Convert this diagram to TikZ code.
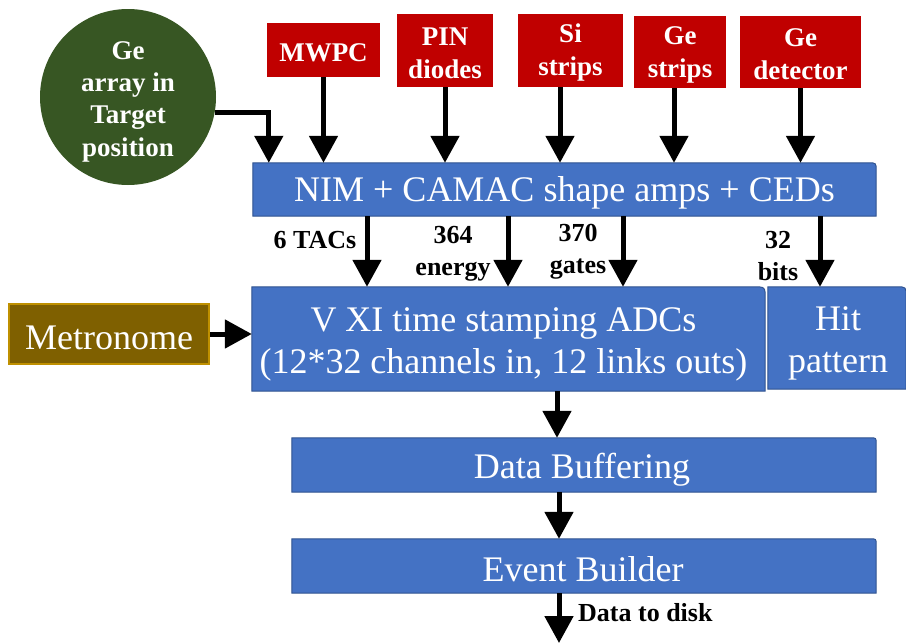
\documentclass[tikz,border=0pt]{standalone}
\usepackage{fontspec}
\setmainfont{Liberation Serif}
\usetikzlibrary{arrows.meta,backgrounds}
\definecolor{boxblue}{HTML}{4472C4}
\definecolor{boxedge}{HTML}{2F528F}
\definecolor{srcred}{HTML}{C00000}
\definecolor{geGreen}{HTML}{375623}
\definecolor{metro}{HTML}{7F6000}
\definecolor{metroedge}{HTML}{BF9000}
\newcommand\rtshape[3]{\filldraw[#3] (#1.south west) -- (#1.north west) -- ([xshift=-#2]#1.north east) .. controls (#1.north east) .. ([yshift=-#2]#1.north east) -- (#1.south east) -- cycle;}
\begin{document}
\begin{tikzpicture}[x=1pt,y=-1pt,
  arr/.style={line width=5pt,-{Triangle[width=28pt,length=27pt]}},
  srcbox/.style={fill=srcred,inner sep=0pt},
  srctext/.style={text=white,font=\fontsize{27}{33}\selectfont\bfseries,align=center,inner sep=0pt},
  shapebox/.style={inner sep=0pt},
  bluetext/.style={text=white,font=\fontsize{36}{42}\selectfont,align=center,inner sep=0pt},
  bluefill/.style={fill=boxblue,draw=boxedge,line width=1pt},
  lbl/.style={font=\fontsize{26}{32}\selectfont\bfseries,align=center,inner sep=0pt}
]
\useasboundingbox (0,0) rectangle (906,643);

% sources
\node[circle,fill=geGreen,minimum size=176pt,inner sep=0pt] (ge) at (128,97) {};
\node[srctext,font=\fontsize{27}{32.3}\selectfont\bfseries,yshift=-4.5pt] (get) at (ge.center) {Ge\\array in\\Target\\position};

\node[srcbox,minimum width=113pt,minimum height=54pt] (mwpc) at (323.5,50) {};
\node[srctext,yshift=-3pt] (mwpct) at (mwpc.center) {MWPC};
\node[srcbox,minimum width=96pt,minimum height=73pt] (pin) at (445,50.5) {};
\node[srctext,yshift=-2.5pt] (pint) at (pin.center) {PIN\\diodes};
\node[srcbox,minimum width=105pt,minimum height=73pt] (si) at (570.5,50.5) {};
\node[srctext,yshift=-2.5pt] (sit) at (si.center) {Si\\strips};
\node[srcbox,minimum width=92pt,minimum height=72pt] (gestr) at (680,52) {};
\node[srctext,yshift=-2.5pt] (gestrt) at (gestr.center) {Ge\\strips};
\node[srcbox,minimum width=121pt,minimum height=72pt] (gedet) at (800.5,52) {};
\node[srctext,yshift=-2.5pt] (gedett) at (gedet.center) {Ge\\detector};

% processing boxes (shapes)
\node[shapebox,minimum width=623pt,minimum height=53pt] (nim) at (564.5,189.5) {};
\node[shapebox,minimum width=513pt,minimum height=104pt] (vxi) at (508.5,339) {};
\node[shapebox,minimum width=138pt,minimum height=102pt] (hit) at (837,338) {};
\node[fill=metro,draw=metroedge,line width=1.5pt,inner sep=0pt,minimum width=200pt,minimum height=60pt] (metro) at (109,334) {};
\node[shapebox,minimum width=584pt,minimum height=54pt] (db) at (584,465) {};
\node[shapebox,minimum width=584pt,minimum height=54pt] (eb) at (584,566) {};

\rtshape{nim}{8pt}{bluefill}
\rtshape{vxi}{12pt}{bluefill}
\rtshape{hit}{10pt}{bluefill}
\rtshape{db}{6pt}{bluefill}
\rtshape{eb}{6pt}{bluefill}

% processing box texts
\node[bluetext,yshift=-3.5pt] (nimt) at (nim.center) {NIM + CAMAC shape amps + CEDs};
\node[bluetext,xshift=-5pt,yshift=-5pt] (vxit) at (vxi.center) {V XI time stamping ADCs\\(12*32 channels in, 12 links outs)};
\node[bluetext,xshift=1pt,yshift=-5pt] (hitt) at (hit.center) {Hit\\pattern};
\node[bluetext,yshift=-3.5pt] (metrot) at (metro.center) {Metronome};
\node[bluetext,xshift=-2pt,yshift=-5pt] (dbt) at (db.center) {Data Buffering};
\node[bluetext,xshift=-1pt,yshift=-3pt] (ebt) at (eb.center) {Event Builder};

% arrows into NIM
\draw[arr] (ge.-10) -| ([xshift=16pt]nim.north west);
\draw[arr] (mwpc.south) -- (mwpc.south |- nim.north);
\draw[arr] (pin.south) -- (pin.south |- nim.north);
\coordinate (siout) at ([xshift=-10.5pt]si.south);
\draw[arr] (siout) -- (siout |- nim.north);
\coordinate (gestrout) at ([xshift=-6pt]gestr.south);
\draw[arr] (gestrout) -- (gestrout |- nim.north);
\draw[arr] (gedet.south) -- (gedet.south |- nim.north);

% NIM to VXI / Hit
\coordinate (n1) at ([xshift=-197.5pt]nim.south);
\coordinate (n2) at ([xshift=-56.5pt]nim.south);
\coordinate (n3) at ([xshift=58.5pt]nim.south);
\coordinate (n4) at ([xshift=255.5pt]nim.south);
\draw[arr] (n1) -- (n1 |- vxi.north);
\draw[arr] (n2) -- (n2 |- vxi.north);
\draw[arr] (n3) -- (n3 |- vxi.north);
\draw[arr] (n4) -- (n4 |- hit.north);

\node[lbl] (l1) at (315,240) {6 TACs};
\node[lbl] (l2) at (453,254) {364\\energy};
\node[lbl] (l3) at (578,252) {370\\gates};
\node[lbl] (l4) at (778,256.5) {32\\bits};

% metronome
\draw[arr] (metro.east) -- (metro.east -| vxi.west);

% down chain
\coordinate (v1) at ([xshift=48.5pt]vxi.south);
\draw[arr] (v1) -- (v1 |- db.north);
\coordinate (d1) at ([xshift=-25pt]db.south);
\draw[arr] (d1) -- (d1 |- eb.north);
\coordinate (e1) at ([xshift=-25pt]eb.south);
\coordinate (disk) at (559,643);
\draw[arr] (e1) -- (disk);
\node[lbl,anchor=west] (l5) at (578,613) {Data to disk};
\end{tikzpicture}
\end{document}
